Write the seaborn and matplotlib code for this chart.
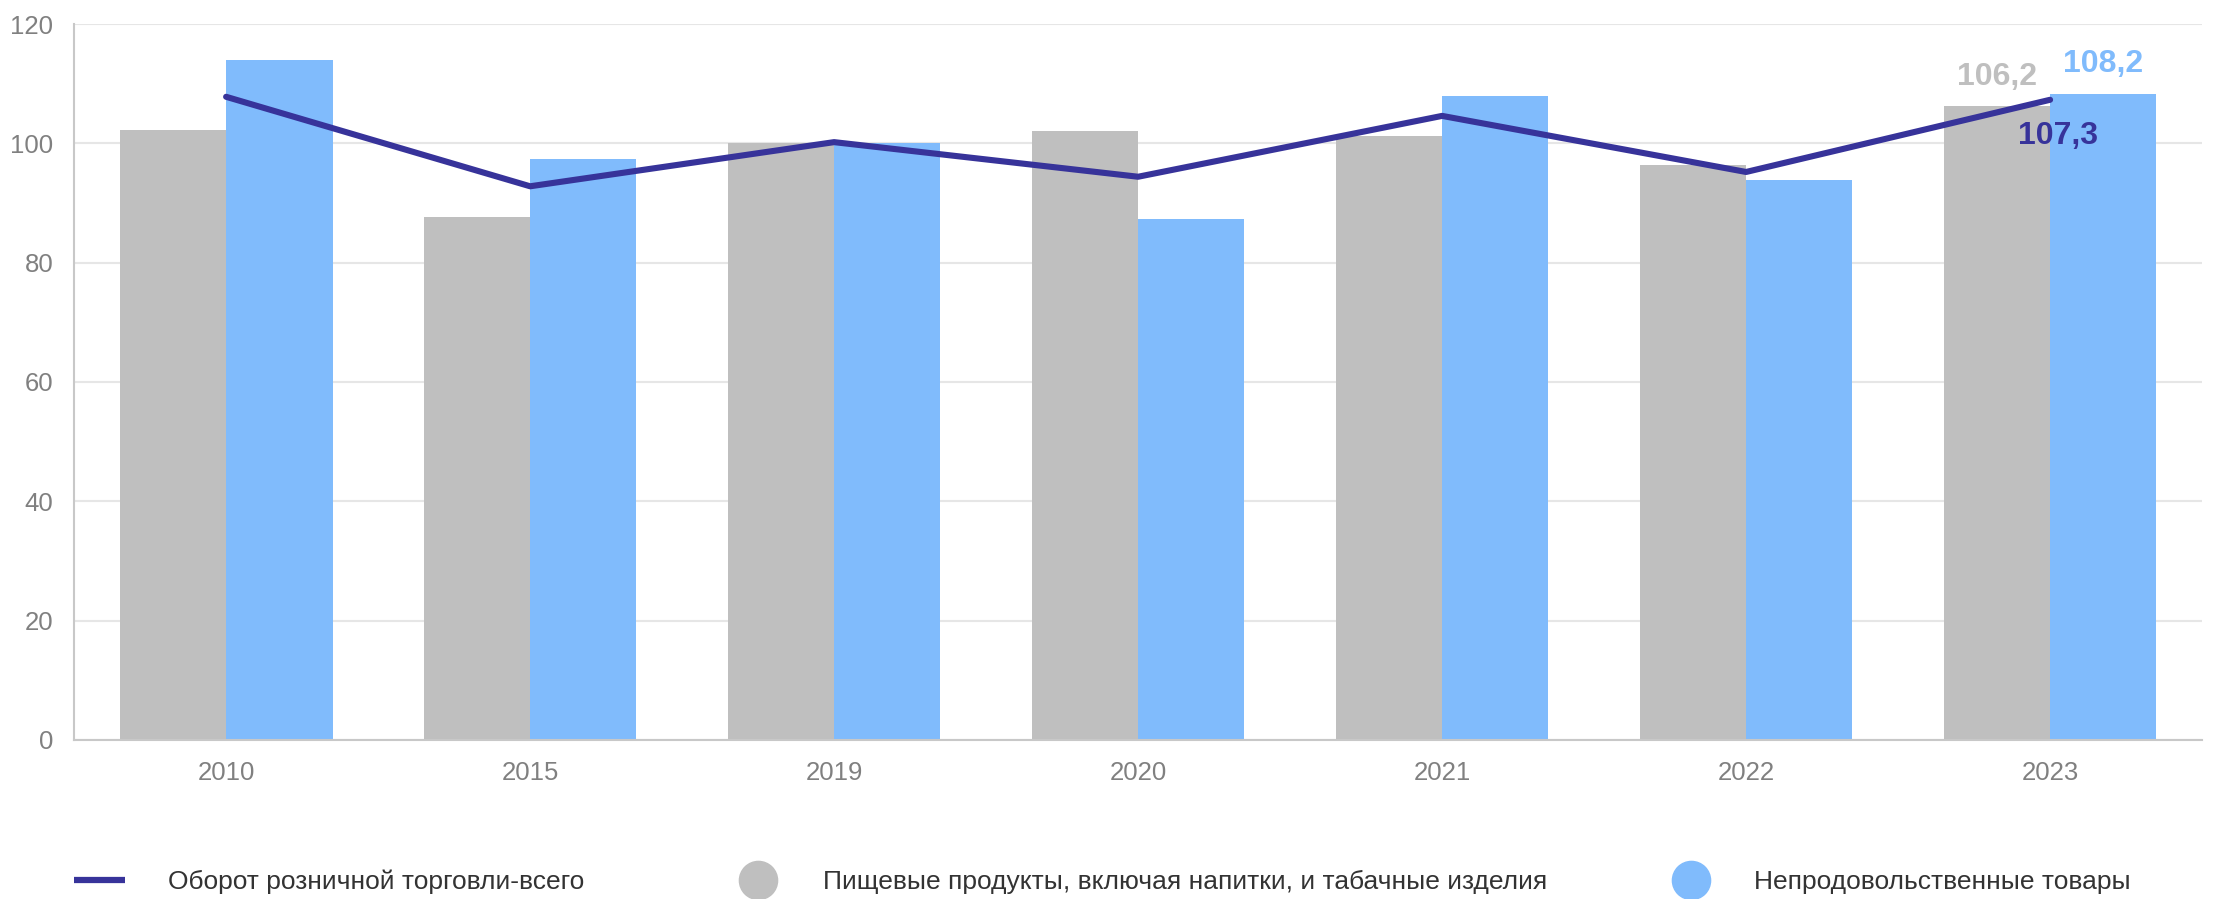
import numpy as np
import pandas as pd
import seaborn as sns
import matplotlib.pyplot as plt
from matplotlib.lines import Line2D

years = ['2010', '2015', '2019', '2020', '2021', '2022', '2023']
total = [107.8, 92.8, 100.2, 94.4, 104.6, 95.2, 107.3]
food = [102.2, 87.6, 100.0, 102.1, 101.3, 96.4, 106.2]
nonfood = [113.9, 97.4, 100.1, 87.3, 107.9, 93.8, 108.2]

lbl_total = 'Оборот розничной торговли-всего'
lbl_food = 'Пищевые продукты, включая напитки, и табачные изделия'
lbl_nonfood = 'Непродовольственные товары'

c_line = '#37339a'
c_food = '#bfbfbf'
c_nonfood = '#80bbfc'
c_text = '#808080'

sns.set_style('white')
plt.rcParams['font.family'] = ['Liberation Sans', 'DejaVu Sans']

bars = pd.DataFrame({
    'year': years * 2,
    'value': food + nonfood,
    'kind': [lbl_food] * len(years) + [lbl_nonfood] * len(years),
})

fig = plt.figure(figsize=(22.32, 8.99), dpi=100)
ax = fig.add_axes([0.0332, 0.1769, 0.9534, 0.7964])

sns.barplot(data=bars, x='year', y='value', hue='kind', order=years,
            palette=[c_food, c_nonfood], width=0.7, saturation=1,
            linewidth=0, legend=False, ax=ax, zorder=2)
sns.lineplot(x=np.arange(len(years)), y=total, color=c_line, linewidth=4.4,
             ax=ax, zorder=3)

ax.set_ylim(0, 120)
ax.set_xlim(-0.5, len(years) - 0.5)
ax.set_yticks(range(0, 121, 20))
ax.set_xlabel('')
ax.set_ylabel('')
ax.grid(axis='y', color='#e6e6e6', linewidth=1.5, zorder=0)
ax.set_axisbelow(True)
for s in ['top', 'right']:
    ax.spines[s].set_visible(False)
for s in ['left', 'bottom']:
    ax.spines[s].set_color('#c8c8c8')
    ax.spines[s].set_linewidth(1.5)
ax.tick_params(axis='both', length=0, labelsize=18.5, labelcolor=c_text)
ax.tick_params(axis='x', pad=15)
ax.tick_params(axis='y', pad=15)

# value labels for the last year
last = len(years) - 1
fmt = lambda v: f'{v:.1f}'.replace('.', ',')
ax.annotate(fmt(food[-1]), (last - 0.175, food[-1]),
            xytext=(0, 21), textcoords='offset points', ha='center', va='center',
            fontsize=23, fontweight='bold', color=c_food)
ax.annotate(fmt(nonfood[-1]), (last + 0.175, nonfood[-1]),
            xytext=(0, 22), textcoords='offset points', ha='center', va='center',
            fontsize=23, fontweight='bold', color=c_nonfood)
ax.annotate(fmt(total[-1]), (last, total[-1]),
            xytext=(6, -26), textcoords='offset points', ha='center', va='center',
            fontsize=23, fontweight='bold', color=c_line)

# legend: three separate entries along the bottom
entries = [
    (Line2D([], [], color=c_line, linewidth=4.5, solid_capstyle='butt'),
     lbl_total, 0.0332, 1.93, 1.63),
    (Line2D([], [], linestyle='', marker='o', markersize=27.5, color=c_food),
     lbl_food, 0.3302, 1.6, 1.67),
    (Line2D([], [], linestyle='', marker='o', markersize=27.5, color=c_nonfood),
     lbl_nonfood, 0.7482, 1.6, 1.59),
]
for h, lab, x, hl, tp in entries:
    fig.legend([h], [lab], loc='center left', bbox_to_anchor=(x, 0.019),
               frameon=False, fontsize=19, handlelength=hl, handletextpad=tp,
               borderaxespad=0, borderpad=0, labelcolor='#333333')

fig.savefig('out.png', dpi=100)
